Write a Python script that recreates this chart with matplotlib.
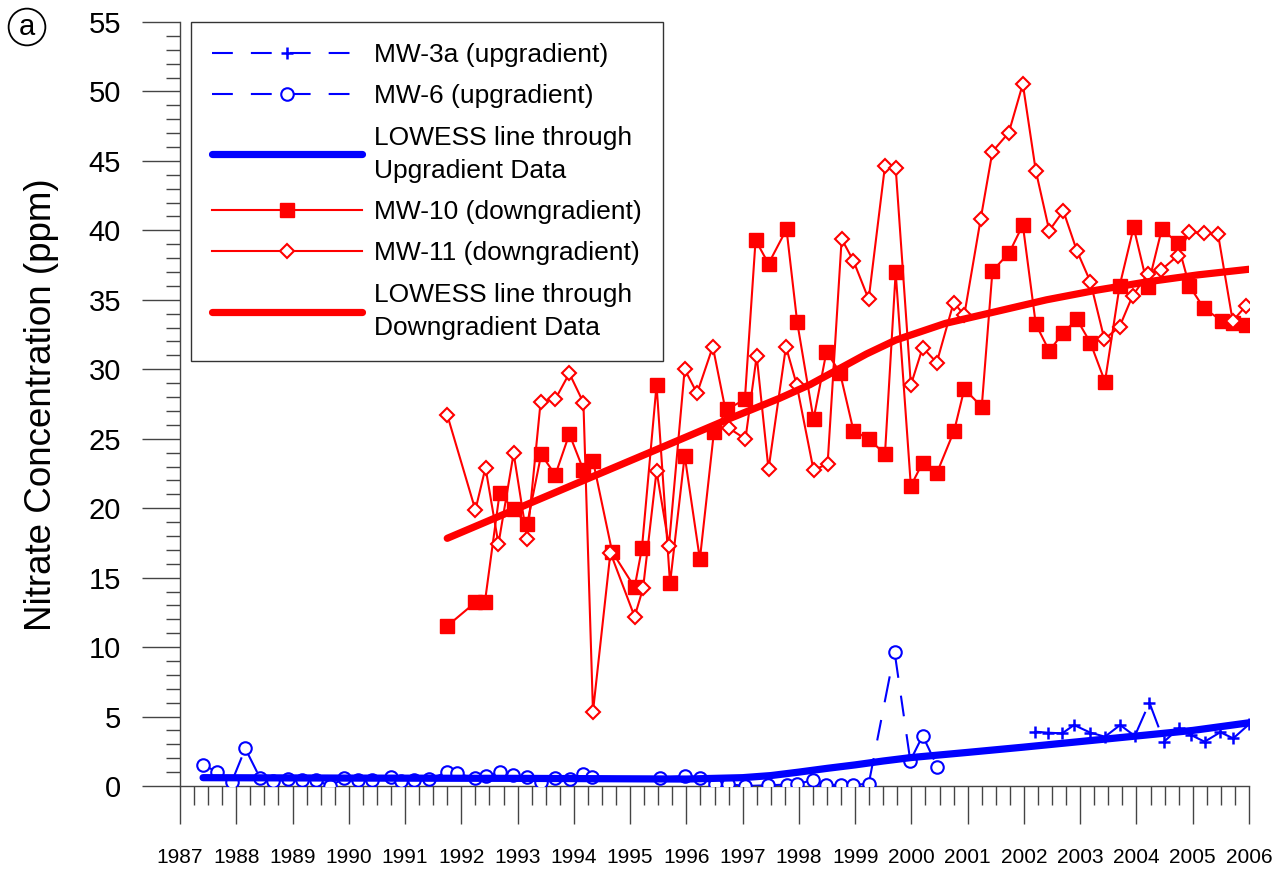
import matplotlib
matplotlib.use("Agg")
import matplotlib.pyplot as plt
from matplotlib.collections import LineCollection
from matplotlib.lines import Line2D
from matplotlib.ticker import MultipleLocator
import numpy as np

plt.rcParams['font.family'] = ['Liberation Sans', 'DejaVu Sans']
plt.rcParams['lines.scale_dashes'] = False

BLUE = '#0000ff'
RED = '#ff0000'
AXIS = '#444444'

# MW-6 (upgradient)
mw6_year = [1987.41, 1987.66, 1987.92, 1988.16, 1988.42, 1988.66, 1988.92, 1989.17,
            1989.41, 1989.67, 1989.92, 1990.17, 1990.42, 1990.75, 1990.93, 1991.16,
            1991.42, 1991.75, 1991.92, 1992.25, 1992.43, 1992.68, 1992.92, 1993.17,
            1993.42, 1993.67, 1993.93, 1994.17, 1994.33, 1995.54, 1995.98, 1996.25,
            1996.50, 1996.74, 1997.04, 1997.45, 1997.78, 1997.97, 1998.25, 1998.49,
            1998.74, 1998.97, 1999.24, 1999.70, 1999.98, 2000.20, 2000.46]
mw6_val = [1.5, 1.03, 0.3, 2.7, 0.6, 0.38, 0.48, 0.43,
           0.43, 0.0, 0.55, 0.43, 0.43, 0.67, 0.38, 0.43,
           0.5, 0.98, 0.9, 0.55, 0.7, 0.98, 0.76, 0.67,
           0.31, 0.6, 0.48, 0.86, 0.67, 0.6, 0.72, 0.6,
           0.14, 0.14, 0.0, 0.05, 0.1, 0.14, 0.43, 0.1,
           0.1, 0.1, 0.14, 9.67, 1.82, 3.62, 1.39]

# MW-3a (upgradient)
mw3a_year = [2002.20, 2002.42, 2002.68, 2002.89, 2003.18, 2003.44, 2003.71, 2003.97,
             2004.23, 2004.49, 2004.75, 2004.97, 2005.21, 2005.49, 2005.72, 2006.00]
mw3a_val = [3.91, 3.84, 3.79, 4.39, 3.84, 3.55, 4.39, 3.6,
            6.0, 3.19, 4.15, 3.67, 3.19, 3.87, 3.43, 4.44]

# MW-10 (downgradient)
mw10_year = [1991.75, 1992.25, 1992.42, 1992.68, 1992.93, 1993.17, 1993.42, 1993.67,
             1993.92, 1994.17, 1994.34, 1994.68, 1995.08, 1995.21, 1995.47, 1995.71,
             1995.97, 1996.24, 1996.49, 1996.73, 1997.04, 1997.23, 1997.46, 1997.78,
             1997.97, 1998.26, 1998.49, 1998.73, 1998.97, 1999.24, 1999.53, 1999.72,
             1999.99, 2000.20, 2000.45, 2000.76, 2000.94, 2001.25, 2001.44, 2001.74,
             2001.98, 2002.21, 2002.45, 2002.69, 2002.94, 2003.18, 2003.44, 2003.70,
             2003.95, 2004.20, 2004.45, 2004.73, 2004.94, 2005.20, 2005.52, 2005.71,
             2005.95]
mw10_val = [11.52, 13.22, 13.27, 21.07, 19.92, 18.84, 23.88, 22.39,
            25.34, 22.75, 23.42, 16.87, 14.3, 17.11, 28.87, 14.59,
            23.78, 16.32, 25.5, 27.12, 27.84, 39.3, 37.6, 40.08,
            33.38, 26.4, 31.27, 29.76, 25.58, 24.98, 23.9, 36.98,
            21.6, 23.28, 22.51, 25.58, 28.58, 27.31, 37.08, 38.4,
            40.39, 33.26, 31.32, 32.59, 33.6, 31.92, 29.11, 36.0,
            40.22, 35.95, 40.08, 39.12, 36.0, 34.39, 33.48, 33.31,
            33.19]

# MW-11 (downgradient)
mw11_year = [1991.75, 1992.25, 1992.43, 1992.66, 1992.93, 1993.17, 1993.41, 1993.67,
             1993.92, 1994.17, 1994.34, 1994.65, 1995.08, 1995.23, 1995.47, 1995.69,
             1995.97, 1996.19, 1996.47, 1996.76, 1997.05, 1997.25, 1997.46, 1997.77,
             1997.96, 1998.26, 1998.51, 1998.76, 1998.97, 1999.24, 1999.53, 1999.72,
             1999.99, 2000.20, 2000.45, 2000.75, 2000.94, 2001.23, 2001.44, 2001.73,
             2001.98, 2002.21, 2002.45, 2002.70, 2002.94, 2003.18, 2003.43, 2003.70,
             2003.93, 2004.20, 2004.44, 2004.73, 2004.94, 2005.20, 2005.45, 2005.71,
             2005.95]
mw11_val = [26.71, 19.87, 22.92, 17.42, 23.95, 17.78, 27.67, 27.84,
            29.71, 27.6, 5.35, 16.8, 12.19, 14.23, 22.68, 17.3,
            30.0, 28.27, 31.63, 25.75, 24.98, 30.96, 22.8, 31.63,
            28.9, 22.75, 23.18, 39.38, 37.8, 35.04, 44.64, 44.52,
            28.87, 31.56, 30.48, 34.8, 33.91, 40.8, 45.67, 47.03,
            50.54, 44.3, 39.98, 41.4, 38.54, 36.31, 32.16, 33.07,
            35.28, 36.86, 37.15, 38.16, 39.9, 39.79, 39.72, 33.48,
            34.58]

# LOWESS curves
low_up_year = [1987.41, 1990.0, 1993.0, 1996.0, 1997.0, 1997.5, 1998.0, 1998.5,
               1999.0, 1999.5, 2000.0, 2001.0, 2002.0, 2003.0, 2004.0, 2005.0, 2006.0]
low_up_val = [0.6, 0.57, 0.55, 0.5, 0.6, 0.75, 1.0, 1.27,
              1.52, 1.8, 2.05, 2.42, 2.8, 3.2, 3.6, 4.0, 4.55]

low_dn_year = [1991.75, 1993.0, 1994.25, 1995.5, 1996.75, 1997.65, 1998.2, 1998.7,
               1999.2, 1999.72, 2000.6, 2001.5, 2002.4, 2003.3, 2004.2, 2005.1, 2006.0]
low_dn_val = [17.83, 19.98, 22.13, 24.27, 26.42, 27.9, 28.9, 30.0,
              31.1, 32.1, 33.3, 34.15, 35.0, 35.7, 36.3, 36.8, 37.2]

W, H = 1282, 869
fig = plt.figure(figsize=(W / 100, H / 100), dpi=100)
ax = fig.add_axes([180 / W, 1 - 786 / H, (1249 - 180) / W, (786 - 22) / H])

# first dash a bit longer: part of it is hidden under the hollow marker
DASH = (0, (19, 13, 15, 13))
LEG_DASH = (0, (15, 13))


def dashed_segments(xs, ys):
    # every segment starts its own dash pattern, so short hops look solid
    pts = np.column_stack([xs, ys])
    return np.stack([pts[:-1], pts[1:]], axis=1)


ax.add_collection(LineCollection(dashed_segments(mw6_year, mw6_val), colors=BLUE,
                                 linewidths=1.5, linestyles=[DASH], zorder=2))
ax.plot(mw6_year, mw6_val, ls='none', marker='o', ms=9, mfc='white', mec=BLUE,
        mew=1.5, zorder=3)
ax.add_collection(LineCollection(dashed_segments(mw3a_year, mw3a_val), colors=BLUE,
                                 linewidths=1.5, linestyles=[DASH], zorder=2))
ax.plot(mw3a_year, mw3a_val, ls='none', marker='+', ms=9, mec=BLUE, mew=1.8, zorder=3)

ax.plot(mw10_year, mw10_val, color=RED, lw=1.5, marker='s', ms=10, mec=RED,
        mfc=RED, zorder=3)
ax.plot(mw11_year, mw11_val, color=RED, lw=1.5, marker='D', ms=7.6, mec=RED,
        mfc='white', mew=1.5, zorder=3)

ax.plot(low_up_year, low_up_val, color=BLUE, lw=5.2, solid_capstyle='round',
        solid_joinstyle='round', zorder=5)
ax.plot(low_dn_year, low_dn_val, color=RED, lw=5.2, solid_capstyle='round',
        solid_joinstyle='round', zorder=5)

ax.set_xlim(1987, 2006)
ax.set_ylim(0, 55)
for s in ('top', 'right'):
    ax.spines[s].set_visible(False)
for s in ('left', 'bottom'):
    ax.spines[s].set_color(AXIS)
    ax.spines[s].set_linewidth(1.0)

ax.xaxis.set_major_locator(MultipleLocator(1))
ax.xaxis.set_minor_locator(MultipleLocator(0.25))
ax.yaxis.set_major_locator(MultipleLocator(5))
ax.yaxis.set_minor_locator(MultipleLocator(1))
ax.xaxis.set_major_formatter(plt.FuncFormatter(lambda v, p: f"{int(round(v))}"))

ax.tick_params(axis='x', which='major', direction='out', length=27.4, width=1,
               color=AXIS, labelsize=15, pad=17)
ax.tick_params(axis='x', which='minor', direction='out', length=14, width=1, color=AXIS)
ax.tick_params(axis='y', which='major', direction='out', length=27.4, width=1,
               color=AXIS, labelsize=21, pad=15)
ax.tick_params(axis='y', which='minor', direction='out', length=10.3, width=1, color=AXIS)

fig.text(42 / W, 1 - 405 / H, 'Nitrate Concentration (ppm)', rotation=90,
         ha='center', va='center', fontsize=26.5)

fig.text(27 / W, 1 - 27 / H, 'a', ha='center', va='center', fontsize=21,
         bbox=dict(boxstyle='circle,pad=0.15', fc='white', ec='black', lw=1.3))

handles = [
    Line2D([], [], color=BLUE, lw=1.5, ls=LEG_DASH, marker='+', ms=9, mew=1.8),
    Line2D([], [], color=BLUE, lw=1.5, ls=LEG_DASH, marker='o', ms=9, mfc='white', mew=1.5),
    Line2D([], [], color=BLUE, lw=5.2, solid_capstyle='round'),
    Line2D([], [], color=RED, lw=1.5, marker='s', ms=10),
    Line2D([], [], color=RED, lw=1.5, marker='D', ms=7.6, mfc='white', mew=1.5),
    Line2D([], [], color=RED, lw=5.2, solid_capstyle='round'),
]
labels = ['MW-3a (upgradient)', 'MW-6 (upgradient)',
          'LOWESS line through\nUpgradient Data',
          'MW-10 (downgradient)', 'MW-11 (downgradient)',
          'LOWESS line through\nDowngradient Data']
leg = ax.legend(handles, labels, loc='upper left',
                bbox_to_anchor=(191 / W, 1 - 22 / H), bbox_transform=fig.transFigure,
                borderaxespad=0, fontsize=19, handlelength=5.7, handletextpad=0.45,
                labelspacing=0.66, borderpad=0.79, numpoints=1, fancybox=False,
                framealpha=1, edgecolor='#333333')
leg.get_frame().set_linewidth(1.0)
for t in leg.get_texts():
    t.set_linespacing(1.47)
leg.set_zorder(10)

fig.savefig('out.png', dpi=100)
plt.close(fig)
